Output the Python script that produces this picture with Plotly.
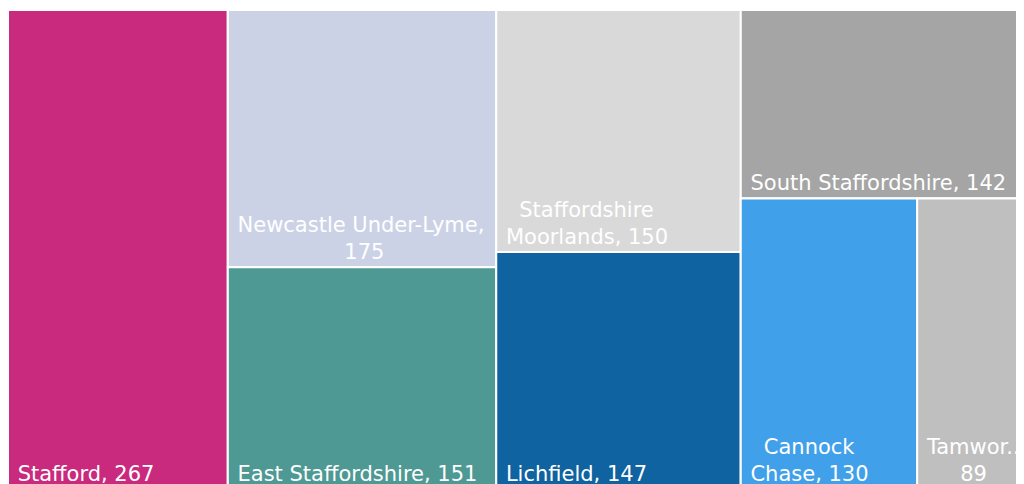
import plotly.graph_objects as go

# District data
labels = ["Stafford", "Newcastle Under-Lyme", "East Staffordshire", "Staffordshire Moorlands",
          "Lichfield", "South Staffordshire", "Cannock Chase", "Tamworth"]
values = [267, 175, 151, 150, 147, 142, 130, 89]
colors = ["#C92A7E", "#CBD2E6", "#4E9993", "#D9D9D9", "#1063A1", "#A5A5A5", "#41A0EA", "#BFBFBF"]

# Tile grouping used by the layout (columns, and a sub-row inside the last column)
groups = ["", "g2", "g2", "g3", "g3", "g4", "g5", "g5"]
group_ids = ["g2", "g3", "g4", "g5"]
group_parents = ["", "", "", "g4"]

NB = "\u00a0"
display = [
    NB + "Stafford, 267",
    NB + "Newcastle Under-Lyme,<br>" + NB * 17 + "175",
    NB + "East Staffordshire, 151",
    NB * 3 + "Staffordshire<br>" + NB + "Moorlands, 150",
    NB + "Lichfield, 147",
    NB + "South Staffordshire, 142",
    NB * 3 + "Cannock<br>" + NB + "Chase, 130",
    NB + "Tamwor...<br>" + NB * 6 + "89",
]

ids = labels + group_ids
all_labels = labels + ["" for _ in group_ids]
all_parents = groups + group_parents
all_values = values + [0 for _ in group_ids]
all_text = display + ["" for _ in group_ids]
all_colors = colors + ["white" for _ in group_ids]

fig = go.Figure(go.Treemap(
    ids=ids,
    labels=all_labels,
    parents=all_parents,
    values=all_values,
    text=all_text,
    texttemplate="%{text}",
    textposition="bottom left",
    textfont=dict(family="DejaVu Sans, Verdana, sans-serif", size=21, color="white"),
    marker=dict(colors=all_colors, line=dict(color="white", width=2),
                pad=dict(t=0, l=0, r=0, b=0)),
    tiling=dict(pad=0, packing="slice-dice"),
    pathbar=dict(visible=False),
    hovertemplate="%{label}: %{value}<extra></extra>",
    sort=False,
))
fig.update_layout(
    width=1030, height=481,
    margin=dict(l=0, r=0, t=2, b=0),
    paper_bgcolor="white",
    uniformtext=dict(minsize=21, mode="show"),
)
fig.write_html("out.html")
